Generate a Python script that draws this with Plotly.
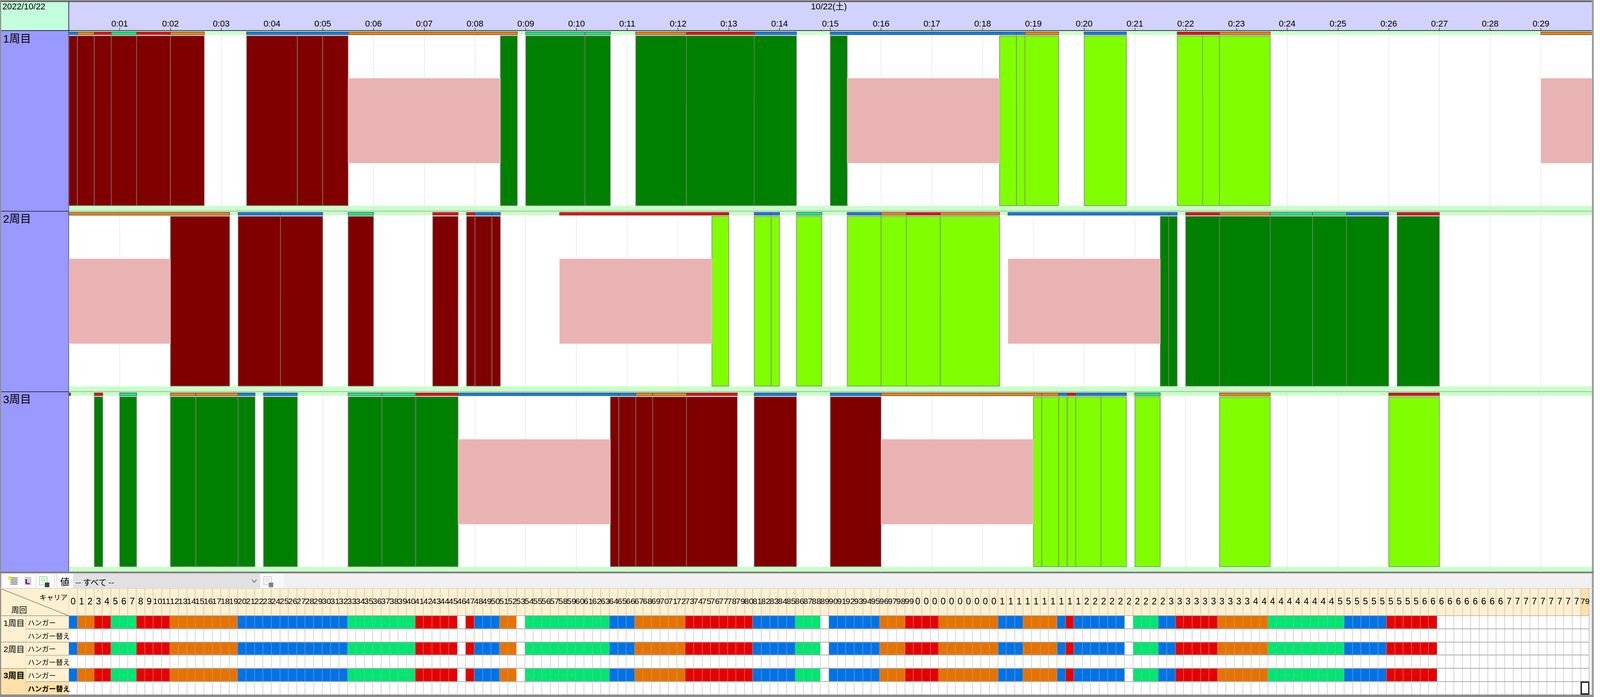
import plotly.graph_objects as go

W = 4264
H = 1784

# Seconds from 0:00, (start, end, carrier)
LAP1_BARS = [(0, 10, 'B'), (10, 30, 'O'), (30, 50, 'R'), (50, 80, 'G'), (80, 120, 'R'), (120, 160, 'O'),
             (210, 270, 'B'), (270, 300, 'B'), (300, 330, 'B'), (330, 530, 'O'),
             (540, 610, 'G'), (610, 640, 'G'), (670, 730, 'O'), (730, 810, 'R'), (810, 860, 'B'),
             (900, 920, 'B'), (920, 1120, 'B'), (1120, 1130, 'B'), (1130, 1170, 'O'),
             (1200, 1250, 'B'), (1310, 1340, 'R'), (1340, 1360, 'R'), (1360, 1420, 'O'), (1740, 1800, 'O')]
LAP2_BARS = [(0, 190, 'O'), (200, 250, 'B'), (250, 300, 'B'), (330, 360, 'G'), (430, 460, 'R'),
             (470, 480, 'R'), (480, 500, 'B'), (500, 510, 'B'), (580, 780, 'R'),
             (810, 830, 'B'), (830, 840, 'B'), (860, 890, 'G'),
             (920, 960, 'B'), (960, 990, 'O'), (990, 1030, 'R'), (1030, 1100, 'O'),
             (1110, 1300, 'B'), (1300, 1310, 'B'), (1320, 1360, 'R'), (1360, 1420, 'O'),
             (1420, 1470, 'G'), (1470, 1510, 'G'), (1510, 1560, 'B'), (1570, 1620, 'R')]
LAP3_BARS = [(0, 2, 'R'), (30, 40, 'R'), (60, 80, 'G'), (120, 150, 'O'), (150, 200, 'O'), (200, 220, 'B'),
             (230, 270, 'B'), (330, 370, 'G'), (370, 410, 'G'), (410, 460, 'R'), (460, 650, 'B'),
             (650, 670, 'B'), (670, 690, 'O'), (690, 730, 'O'), (730, 790, 'R'),
             (810, 860, 'B'), (900, 960, 'B'), (960, 1150, 'O'), (1150, 1170, 'O'), (1170, 1180, 'B'),
             (1180, 1190, 'R'), (1190, 1220, 'B'), (1220, 1250, 'B'), (1260, 1290, 'G'),
             (1360, 1420, 'O'), (1560, 1620, 'R')]

# D = dark red, F = dark green, L = lime, P = pink waiting block
LAP1_BLOCKS = [(0, 10, 'D'), (10, 30, 'D'), (30, 50, 'D'), (50, 80, 'D'), (80, 120, 'D'), (120, 160, 'D'),
               (210, 270, 'D'), (270, 300, 'D'), (300, 330, 'D'), (330, 510, 'P'), (510, 530, 'F'),
               (540, 610, 'F'), (610, 640, 'F'), (670, 730, 'F'), (730, 810, 'F'), (810, 860, 'F'),
               (900, 920, 'F'), (920, 1100, 'P'), (1100, 1120, 'L'), (1120, 1130, 'L'), (1130, 1170, 'L'),
               (1200, 1250, 'L'), (1310, 1340, 'L'), (1340, 1360, 'L'), (1360, 1420, 'L'), (1740, 1800, 'P')]
LAP2_BLOCKS = [(0, 120, 'P'), (120, 190, 'D'), (200, 250, 'D'), (250, 300, 'D'), (330, 360, 'D'),
               (430, 460, 'D'), (470, 480, 'D'), (480, 500, 'D'), (500, 510, 'D'),
               (580, 760, 'P'), (760, 780, 'L'), (810, 830, 'L'), (830, 840, 'L'), (860, 890, 'L'),
               (920, 960, 'L'), (960, 990, 'L'), (990, 1030, 'L'), (1030, 1100, 'L'),
               (1110, 1290, 'P'), (1290, 1300, 'F'), (1300, 1310, 'F'), (1320, 1360, 'F'), (1360, 1420, 'F'),
               (1420, 1470, 'F'), (1470, 1510, 'F'), (1510, 1560, 'F'), (1570, 1620, 'F')]
LAP3_BLOCKS = [(30, 40, 'F'), (60, 80, 'F'), (120, 150, 'F'), (150, 200, 'F'), (200, 220, 'F'), (230, 270, 'F'),
               (330, 370, 'F'), (370, 410, 'F'), (410, 460, 'F'), (460, 640, 'P'),
               (640, 650, 'D'), (650, 670, 'D'), (670, 690, 'D'), (690, 730, 'D'), (730, 790, 'D'),
               (810, 860, 'D'), (900, 960, 'D'), (960, 1140, 'P'), (1140, 1150, 'L'), (1150, 1170, 'L'),
               (1170, 1180, 'L'), (1180, 1190, 'L'), (1190, 1220, 'L'), (1220, 1250, 'L'), (1260, 1290, 'L'),
               (1360, 1420, 'L'), (1560, 1620, 'L')]

MINUTE_TICKS = [60, 120, 180, 240, 300, 360, 420, 480, 540, 600, 660, 720, 780, 840, 900, 960, 1020, 1080,
                1140, 1200, 1260, 1320, 1380, 1440, 1500, 1560, 1620, 1680, 1740]
MINUTE_LABELS = ['0:01', '0:02', '0:03', '0:04', '0:05', '0:06', '0:07', '0:08', '0:09', '0:10',
                 '0:11', '0:12', '0:13', '0:14', '0:15', '0:16', '0:17', '0:18', '0:19', '0:20',
                 '0:21', '0:22', '0:23', '0:24', '0:25', '0:26', '0:27', '0:28', '0:29']
LAP_NAMES = ['1周目', '2周目', '3周目']

# Carrier table, one cell per 10 seconds
CELLS = ("B O O R R G G G R R R R O O O O O O O O "
         "B B B B B B B B B B B B B G G G G G G G G R R R R R W R B B B O O W "
         "G G G G G G G G G G B B B O O O O O O R R R R R R R R "
         "B B B B B G G G W B B B B B B O O O R R R R "
         "O O O O O O O B B B O O O O B R B B B B B B W "
         "G G G B B R R R R R O O O O O O G G G G G G G G G B B B B B R R R R R R "
         "W W W W W W W W W W W W W W W W W W").split()
CELL_LABELS = [str(i) for i in range(100)] + [str(i)[1] for i in range(100, 179)] + ['79']

BAR_COLORS = {'B': '#0080FF', 'O': '#FF8000', 'R': '#FF0000', 'G': '#00FF80'}
BLOCK_COLORS = {'D': '#800000', 'F': '#008000', 'L': '#80FF00', 'P': '#EAB3B3'}
CELL_CODES = {'B': 0, 'O': 1, 'R': 2, 'G': 3, 'W': 4}
CELL_SCALE = [[0.0, '#0073E6'], [0.2, '#0073E6'], [0.2, '#E67300'], [0.4, '#E67300'], [0.4, '#E60000'],
              [0.6, '#E60000'], [0.6, '#00E673'], [0.8, '#00E673'], [0.8, '#FFFFFF'], [1.0, '#FFFFFF']]

SANS = 'Liberation Sans, Noto Sans CJK JP'
CJK = 'Noto Sans CJK JP'
GANTT_X0, GANTT_X1 = 184.4, 4258.6
TABLE_X0, TABLE_X1 = 184.3, 4252
LAP_TOPS = [79, 541, 1003]
HEAD_BG = '#FFF0D0'
HEAD_HI = '#FFE0A6'


def fx(px):
    return px / W


def fy(py):
    return 1 - py / H


shapes = []
notes = []


def rect(x0, y0, x1, y1, color, line=None, layer='below'):
    shapes.append(dict(type='rect', xref='paper', yref='paper', x0=fx(x0), x1=fx(x1), y0=fy(y0), y1=fy(y1),
                       fillcolor=color, line=dict(width=1 if line else 0, color=line or color), layer=layer))


def seg(x0, y0, x1, y1, color, width=1):
    shapes.append(dict(type='line', xref='paper', yref='paper', x0=fx(x0), x1=fx(x1), y0=fy(y0), y1=fy(y1),
                       line=dict(width=width, color=color), layer='below'))


def label(x, y, text, size, family=CJK, anchor='left', color='#000000'):
    notes.append(dict(xref='paper', yref='paper', x=fx(x), y=fy(y), text=text, showarrow=False, xanchor=anchor,
                      yanchor='middle', font=dict(family=family, size=size, color=color), borderpad=0))


fig = go.Figure()

# Gantt lanes
for n, (bars, blocks) in enumerate([(LAP1_BARS, LAP1_BLOCKS), (LAP2_BARS, LAP2_BLOCKS), (LAP3_BARS, LAP3_BLOCKS)]):
    yname = 'y' if n == 0 else f'y{n + 1}'
    fig.add_trace(go.Bar(
        x=[b[1] - b[0] for b in bars], base=[b[0] for b in bars], y=[6.2] * len(bars), width=[7] * len(bars),
        orientation='h', xaxis='x', yaxis=yname, showlegend=False,
        marker=dict(color=[BAR_COLORS[b[2]] for b in bars], line=dict(color='#505050', width=1.5))))
    solid = [b for b in blocks if b[2] != 'P']
    fig.add_trace(go.Bar(
        x=[b[1] - b[0] for b in solid], base=[b[0] for b in solid], y=[230] * len(solid), width=[434.5] * len(solid),
        orientation='h', xaxis='x', yaxis=yname, showlegend=False,
        marker=dict(color=[BLOCK_COLORS[b[2]] for b in solid], line=dict(color='#808080', width=1.5))))
    waits = [b for b in blocks if b[2] == 'P']
    fig.add_trace(go.Bar(
        x=[b[1] - b[0] for b in waits], base=[b[0] for b in waits], y=[230] * len(waits), width=[217] * len(waits),
        orientation='h', xaxis='x', yaxis=yname, showlegend=False,
        marker=dict(color=BLOCK_COLORS['P'], line=dict(color='#F0CCCC', width=1))))

# Minute header
fig.add_trace(go.Scatter(x=MINUTE_TICKS, y=[0] * len(MINUTE_TICKS), mode='markers', marker=dict(opacity=0),
                         xaxis='x2', yaxis='y4', showlegend=False, hoverinfo='skip'))

# Carrier table
row = [CELL_CODES[c] for c in CELLS]
blank = [CELL_CODES['W']] * len(CELLS)
fig.add_trace(go.Heatmap(z=[row, blank, row, blank, row, blank], x=list(range(len(CELLS))), y=[0, 1, 2, 3, 4, 5],
                         xaxis='x3', yaxis='y5', colorscale=CELL_SCALE, zmin=0, zmax=4, showscale=False,
                         xgap=1, ygap=2, hoverinfo='skip'))
fig.add_trace(go.Heatmap(z=[[0] * (len(CELLS) - 1) + [1]], x=list(range(len(CELLS))), y=[0], xaxis='x3', yaxis='y6',
                         colorscale=[[0, HEAD_BG], [1, HEAD_HI]], zmin=0, zmax=1, showscale=False, xgap=1,
                         hoverinfo='skip'))
one = [i for i, s in enumerate(CELL_LABELS) if len(s) == 1]
two = [i for i, s in enumerate(CELL_LABELS) if len(s) == 2]
fig.add_trace(go.Scatter(x=one, y=[0] * len(one), text=[CELL_LABELS[i] for i in one], mode='text', xaxis='x3', yaxis='y6',
                         textfont=dict(family=SANS, size=23, color='#000000'), showlegend=False, hoverinfo='skip'))
fig.add_trace(go.Scatter(x=two, y=[0] * len(two), text=[CELL_LABELS[i] for i in two], mode='text', xaxis='x3', yaxis='y6',
                         textfont=dict(family='Liberation Sans Narrow, Liberation Sans', size=21, color='#000000'),
                         showlegend=False, hoverinfo='skip'))

# Window frame and panels
rect(0, 0, W, H, '#F0F0F0')
rect(0, 0, W, 4, '#8C8C8C')
rect(0, 0, 3, H, '#8C8C8C')
rect(4259, 0, W, H, '#9A9A9A')
rect(3, 4, 184, 78, '#C3FFDC')
rect(184, 4, 4259, 78, '#D2D2FF')
rect(3, 4, 4259, 5, '#000000')
rect(3, 77.5, 4259, 79, '#000000')
rect(3, 79, 183.5, 1463, '#9999FF')
seg(184, 5, 184, 1463, '#000040', 1.5)
for n, top in enumerate(LAP_TOPS):
    rect(184.4, top, 4259, top + 10, '#C8FFC8')
    rect(184.4, top + 10, 4259, top + 448, '#FFFFFF')
    rect(184.4, top + 448, 4259, top + 461, '#C8FFC8')
    label(7, top + 20, LAP_NAMES[n], 28, SANS)
for y in (540, 1002):
    rect(3, y, 184, y + 1.2, '#000000')
    rect(184, y - 0.5, 4259, y + 1.2, '#A8A8A8')
rect(0, 1463, W, 1467.5, '#808080')
label(5, 17, '2022/10/22', 22, SANS)
label(2218, 17, '10/22(土)', 22, SANS, anchor='center')

# Toolbar
rect(3, 1468, 4259, 1505.5, '#F0F0F0')
rect(3, 1468, 196, 1505.5, '#FBFBFB')
rect(696, 1468, 760, 1505.5, '#F8F8F8')
rect(196, 1468, 696, 1505.5, '#E1E1E1')
seg(5, 1470, 5, 1503, '#C0C0C0')
seg(97, 1470, 97, 1503, '#C8C8C8')
seg(146, 1470, 146, 1503, '#C0C0C0')
seg(152, 1470, 152, 1503, '#C0C0C0')
for y in (1479, 1483, 1487, 1491, 1495):
    seg(28, y, 47, y, '#404040', 1.5)
    seg(66, y, 84, y, '#909090', 1.5)
rect(22, 1475, 30, 1483, '#F4F000')
seg(70, 1482, 70, 1494, '#7F0F9F', 4)
seg(70, 1494, 80, 1494, '#7F0F9F', 3)
rect(106, 1476, 126, 1497, '#FFFFFF', '#22DD22')
seg(110, 1482, 122, 1482, '#22AA22')
seg(110, 1487, 122, 1487, '#22AA22')
rect(120, 1491, 132, 1503, '#404040')
rect(706, 1476, 726, 1497, '#FAFAFA', '#A8A8A8')
seg(710, 1482, 722, 1482, '#A8A8A8')
seg(710, 1487, 722, 1487, '#A8A8A8')
rect(719, 1491, 731, 1503, '#808080')
seg(674, 1484, 680, 1491, '#505050', 1.5)
seg(680, 1491, 686, 1484, '#505050', 1.5)
label(160, 1487, '値', 24)
label(201, 1489, '-- すべて --', 21)

# Table chrome
rect(3, 1507, 4252, 1778, '#ABABAB')
rect(3, 1507, 184, 1575, HEAD_BG)
seg(3, 1507, 184, 1576, '#808080', 1.5)
rect(0, 1778, W, 1784, '#8C8C8C')
rect(0, 1505.5, W, 1507, '#D0D0D0')
label(105, 1528, 'キャリア', 18)
label(29, 1560, '周回', 20)
ROW_TOPS = [1576, 1609.7, 1643.4, 1677.1, 1710.8, 1744.5]
for n, y in enumerate(ROW_TOPS):
    name_bg = HEAD_HI if n == 5 else HEAD_BG
    rect(69.5, y + 1, 184, y + 33, name_bg)
    text = 'ハンガー' if n % 2 == 0 else 'ハンガー替え'
    label(73, y + 17, f'<b>{text}</b>' if n == 5 else text, 18)
for n in range(3):
    y0 = ROW_TOPS[n * 2]
    rect(3, y0 + 1, 69, y0 + 66.5, HEAD_HI if n == 2 else HEAD_BG)
    label(8, y0 + 18, f'<b>{LAP_NAMES[n]}</b>' if n == 2 else LAP_NAMES[n], 21, SANS)

# Current cell cursor
shapes.append(dict(type='rect', xref='x3', yref='y5', x0=178.55, x1=179.45, y0=4.55, y1=5.45,
                   line=dict(color='#000000', width=3), fillcolor='rgba(0,0,0,0)', layer='above'))

layout = dict(
    height=H, autosize=True, margin=dict(l=0, r=0, t=0, b=0, pad=0),
    paper_bgcolor='#F0F0F0', plot_bgcolor='rgba(0,0,0,0)', barmode='overlay', showlegend=False,
    shapes=shapes, annotations=notes,
    xaxis=dict(domain=[fx(GANTT_X0), fx(GANTT_X1)], range=[0, 1800], anchor='y', tickmode='array', tickvals=MINUTE_TICKS,
               showticklabels=False, ticks='', showgrid=True, gridcolor='#DCDCDC', gridwidth=1, zeroline=False, showline=False),
    xaxis2=dict(domain=[fx(GANTT_X0), fx(GANTT_X1)], range=[0, 1800], anchor='y4', tickmode='array', tickvals=MINUTE_TICKS,
                ticktext=MINUTE_LABELS, ticks='inside', ticklen=7, tickcolor='#000000', tickwidth=1,
                ticklabelposition='inside', tickangle=0, tickfont=dict(family=SANS, size=22, color='#000000'),
                showgrid=False, zeroline=False, showline=False),
    xaxis3=dict(domain=[fx(TABLE_X0), fx(TABLE_X1)], range=[-0.5, 179.5], anchor='y5', visible=False),
    yaxis4=dict(domain=[fy(78), fy(5)], range=[0, 1], anchor='x2', visible=False),
    yaxis5=dict(domain=[fy(1778), fy(1575.5)], range=[5.5, -0.5], anchor='x3', visible=False),
    yaxis6=dict(domain=[fy(1575), fy(1507)], range=[-0.5, 0.5], anchor='x3', visible=False),
)
for n, top in enumerate(LAP_TOPS):
    key = 'yaxis' if n == 0 else f'yaxis{n + 1}'
    layout[key] = dict(domain=[fy(top + 461), fy(top)], range=[461, 0], anchor='x', visible=False)
fig.update_layout(**layout)

fig.write_html("out.html", config={'displayModeBar': False, 'responsive': True}, default_width='100%',
               default_height=f'{H}px', post_script="document.body.style.margin='0';")
